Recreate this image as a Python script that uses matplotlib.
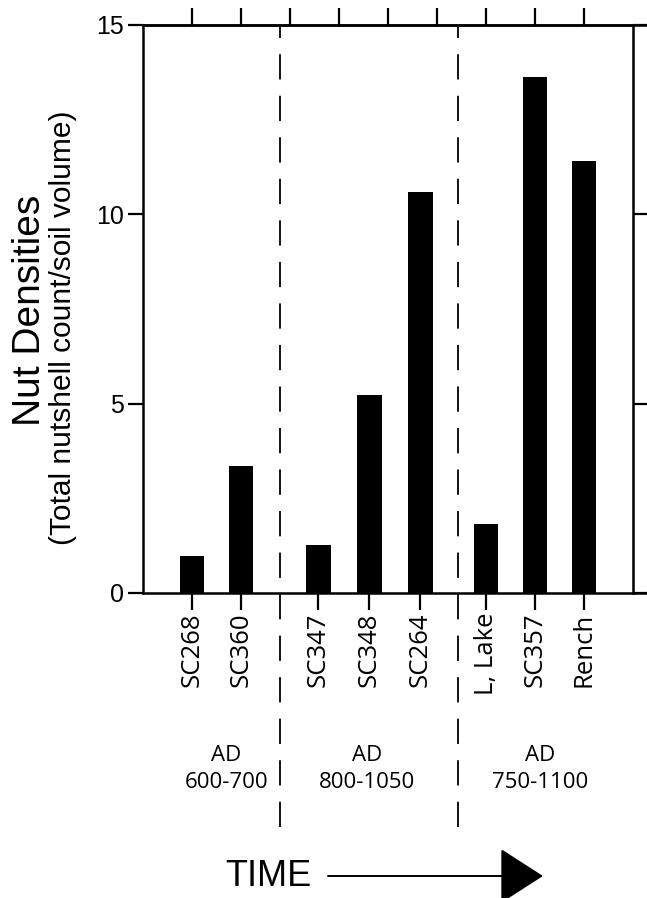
import matplotlib.pyplot as plt

# nut densities per site, grouped by period
sites = ["SC268", "SC360", "SC347", "SC348", "SC264", "L, Lake", "SC357", "Rench"]
positions = [1.0, 2.0, 3.58, 4.62, 5.66, 7.0, 8.0, 9.0]
densities = [0.98, 3.35, 1.27, 5.23, 10.59, 1.82, 13.63, 11.42]

periods = ["AD\n600-700", "AD\n800-1050", "AD\n750-1100"]
period_centers = [1.7, 4.58, 8.1]
separators = [2.8, 6.42]

W, H = 647, 898
fig = plt.figure(figsize=(W / 100, H / 100), dpi=100)
ax = fig.add_axes([143 / W, 1 - 593 / H, (633 - 143) / W, (593 - 25) / H])

ax.bar(positions, densities, width=0.5, color="black", zorder=3)

ax.set_xlim(0, 10)
ax.set_ylim(0, 15)

for s in ax.spines.values():
    s.set_linewidth(1.8)

# top and bottom frame lines run on past the right edge
for yy in (0, 15):
    ax.plot([10, 10.35], [yy, yy], color="black", lw=1.8, clip_on=False,
            solid_capstyle="butt")

# y ticks on both sides, outward
ax.set_yticks([0, 5, 10, 15])
ax.tick_params(axis="y", which="major", direction="out", length=11, width=1.6,
               left=True, right=True, labelright=False, labelsize=18, pad=3)
for lab in ax.get_yticklabels():
    lab.set_family("Liberation Sans")

# bottom ticks at the bars, labels rotated
ax.set_xticks(positions)
ax.set_xticklabels(sites, rotation=90, family="Open Sans", fontsize=18.5)
ax.tick_params(axis="x", direction="out", length=12, width=1.6, pad=2, top=False)

# top ticks at every unit
top = ax.secondary_xaxis("top")
top.set_xticks(range(1, 10))
top.set_xticklabels([])
top.tick_params(direction="out", length=12, width=1.6)
top.spines["top"].set_linewidth(1.8)

# dashed separators running down through the labels
for x in separators:
    ax.axvline(x, ymin=-0.412, ymax=1, color="black", lw=1.3,
               ls=(0, (14, 9)), clip_on=False, zorder=1)

# period labels under the site names
for c, p in zip(period_centers, periods):
    ax.text(c, -4.65, p, ha="center", va="center", family="Open Sans",
            fontsize=16, linespacing=1.4)

fig.text(30 / W, 1 - 310 / H, "Nut Densities", rotation=90, ha="center", va="center",
         family="Liberation Sans", fontsize=28)
fig.text(63 / W, 1 - 328 / H, "(Total nutshell count/soil volume)", rotation=90,
         ha="center", va="center", family="Liberation Sans", fontsize=21.5)

fig.text(268 / W, 22 / H, "TIME", ha="center", va="center",
         family="Liberation Sans", fontsize=26)
fig.add_artist(plt.Annotation("", xy=(543, 22), xytext=(328, 22),
                              xycoords="figure pixels", textcoords="figure pixels",
                              arrowprops=dict(arrowstyle="-|>,head_length=1.4,head_width=0.9",
                                              mutation_scale=20, lw=1.4, color="black",
                                              shrinkA=0, shrinkB=0)))

fig.savefig("out.png", dpi=100)
